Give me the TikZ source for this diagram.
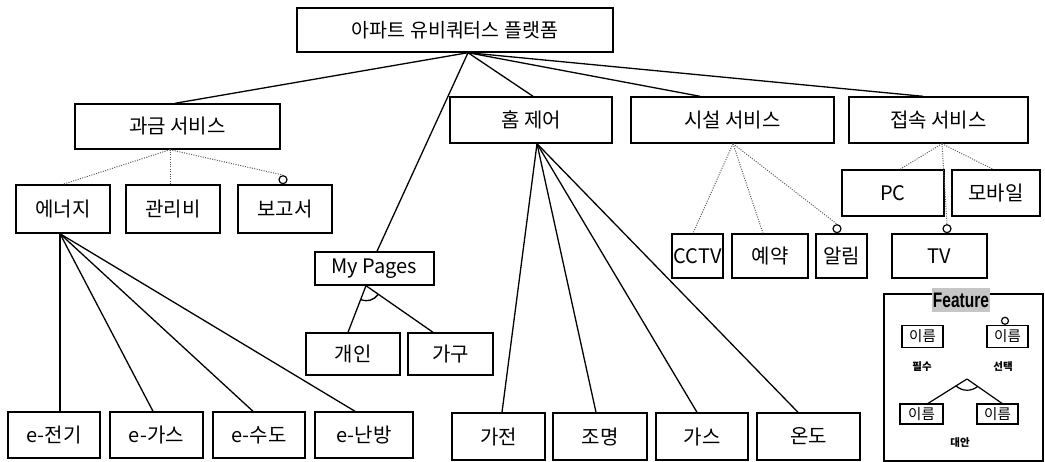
\documentclass[tikz,border=0pt]{standalone}
\usepackage{graphicx}
\usepackage{fontspec}
\setmainfont{Noto Sans CJK KR}
\newfontfamily\latfont{Liberation Sans}
\usetikzlibrary{calc}
\tikzset{
  box/.style={draw, line width=1.4pt, inner sep=0pt, font=\fontsize{20}{23}\selectfont},
  sol/.style={line width=1.3pt},
  dot/.style={line width=1pt, gray!70!black, dash pattern=on 1pt off 1.4pt},
  optc/.style={circle, draw, line width=1.2pt, minimum size=8pt, inner sep=0pt, anchor=south},
  lbox/.style={draw, line width=1.2pt, inner sep=0pt, minimum width=41pt, minimum height=22pt, font=\fontsize{14.5}{16}\selectfont},
  ltext/.style={inner sep=0pt, font=\bfseries\fontsize{10.5}{12}\selectfont}
}
\begin{document}
\begin{tikzpicture}[x=1pt,y=-1pt]
\useasboundingbox (0,0) rectangle (1045,462);
\fill[white] (0,0) rectangle (1045,462);

% nodes
\node[box, minimum width=316pt, minimum height=44pt, font=\fontsize{19.5}{22}\selectfont] (root) at (455,30) {아파트 유비쿼터스 플랫폼};

\node[box, minimum width=205pt, minimum height=45pt] (kwa) at (177.5,126.5) {과금 서비스};
\node[box, minimum width=94pt, minimum height=48pt] (ener) at (63,209) {에너지};
\node[box, minimum width=94pt, minimum height=48pt] (mgmt) at (173,209) {관리비};
\node[box, minimum width=94pt, minimum height=48pt] (rep) at (285,209) {보고서};

\node[box, minimum width=92pt, minimum height=46pt] (ee) at (54,435) {e-전기};
\node[box, minimum width=93pt, minimum height=46pt] (eg) at (156.5,435) {e-가스};
\node[box, minimum width=92pt, minimum height=46pt] (ew) at (259,435) {e-수도};
\node[box, minimum width=98pt, minimum height=46pt] (eh) at (364,435) {e-난방};

\node[box, minimum width=119pt, minimum height=33pt] (myp) at (374.5,268.5) {My Pages};
\node[box, minimum width=94pt, minimum height=42pt] (gaein) at (353,354) {개인};
\node[box, minimum width=85pt, minimum height=42pt] (gagu) at (450.5,354) {가구};

\node[box, minimum width=162pt, minimum height=46pt] (home) at (531,120) {홈 제어};
\node[box, minimum width=93pt, minimum height=47pt] (appl) at (498.5,436.5) {가전};
\node[box, minimum width=94pt, minimum height=47pt] (light) at (600,436.5) {조명};
\node[box, minimum width=92pt, minimum height=47pt] (gas) at (702,436.5) {가스};
\node[box, minimum width=103pt, minimum height=47pt] (temp) at (808.5,436.5) {온도};

\node[box, minimum width=203pt, minimum height=46pt] (fac) at (732.5,120) {시설 서비스};
\node[box, minimum width=51pt, minimum height=44pt] (cctv) at (697.5,256) {CCTV};
\node[box, minimum width=76pt, minimum height=44pt] (resv) at (770,256) {예약};
\node[box, minimum width=51pt, minimum height=44pt] (noti) at (841.5,256) {알림};

\node[box, minimum width=179pt, minimum height=46pt] (acc) at (938.5,120) {접속 서비스};
\node[box, minimum width=102pt, minimum height=46pt] (pc) at (893,193) {PC};
\node[box, minimum width=88pt, minimum height=46pt] (mob) at (996,193) {모바일};
\node[box, minimum width=95pt, minimum height=44pt] (tv) at (939.5,256) {TV};

% optional circles
\node[optc] (repc) at ([xshift=-2pt]rep.north) {};
\node[optc] (notic) at ([xshift=-4.5pt]noti.north) {};
\node[optc] (tvc) at ([xshift=7.5pt]tv.north) {};

% root connectors
\coordinate (rp) at ([xshift=13pt]root.south);
\draw[sol] (rp) -- ([xshift=-2.5pt]kwa.north);
\draw[sol] (rp) -- ([xshift=2.5pt]myp.north);
\draw[sol] (rp) -- ([xshift=2pt]home.north);
\draw[sol] (rp) -- ([xshift=-32.5pt]fac.north);
\draw[sol] (rp) -- ([xshift=-15.5pt]acc.north);

% billing
\coordinate (kp) at ([xshift=-7.5pt]kwa.south);
\draw[dot] (kp) -- (ener.north);
\draw[dot] (kp) -- ([xshift=-3pt]mgmt.north);
\draw[dot] (kp) -- (repc.north);

\coordinate (ep) at ([xshift=-3pt]ener.south);
\draw[sol] (ep) -- ([xshift=6pt]ee.north);
\draw[sol] (ep) -- ([xshift=-3.5pt]eg.north);
\draw[sol] (ep) -- ([xshift=-6pt]ew.north);
\draw[sol] (ep) -- ([xshift=-9pt]eh.north);

% my pages (alternative)
\coordinate (mpa) at ([xshift=-8.5pt]myp.south);
\coordinate (mpl) at ([xshift=-5pt]gaein.north);
\coordinate (mpr) at ([xshift=-17.5pt]gagu.north);
\draw[sol] (mpa) -- (mpl);
\draw[sol] (mpa) -- (mpr);
\draw[sol] ($(mpa)!15pt!(mpl)$) to[bend right=37] ($(mpa)!15pt!(mpr)$);

% home control
\coordinate (hp) at ([xshift=6pt]home.south);
\draw[sol] (hp) -- ([xshift=3.5pt]appl.north);
\draw[sol] (hp) -- ([xshift=-4pt]light.north);
\draw[sol] (hp) -- ([xshift=-5pt]gas.north);
\draw[sol] (hp) -- ([xshift=-10.5pt]temp.north);

% facility
\coordinate (fp) at ([xshift=0.5pt]fac.south);
\draw[dot] (fp) -- ([xshift=-4.5pt]cctv.north);
\draw[dot] (fp) -- ([xshift=-7pt]resv.north);
\draw[dot] (fp) -- (notic.north);

% access
\coordinate (ap) at ([xshift=3.5pt]acc.south);
\draw[dot] (ap) -- ([xshift=7pt]pc.north);
\draw[dot] (ap) -- ([xshift=-3pt]mob.north);
\draw[dot] (ap) -- (tvc.north);

% legend
\draw[line width=1.4pt] (884,294) rectangle (1043,461);
\node[fill=gray!45, inner sep=0pt, minimum width=58pt, minimum height=24pt, font=\latfont\bfseries\fontsize{21}{23}\selectfont] (feat) at (961,300) {\scalebox{0.74}[1]{Feature}};
\node[lbox] (l1) at (922.5,336.5) {이름};
\node[lbox] (l2) at (1007.5,336.5) {이름};
\node[lbox, minimum width=43pt, minimum height=20pt] (l3) at (921.5,414) {이름};
\node[lbox, minimum height=20pt] (l4) at (997.5,414) {이름};
\node[optc, minimum size=7pt] (l2c) at ([xshift=-2.5pt]l2.north) {};
\node[ltext] (t1) at (922,367) {필수};
\node[ltext] (t2) at (1003,367) {선택};
\node[ltext] (t3) at (960,443) {대안};
\coordinate (la) at (967,379);
\coordinate (lal) at ([xshift=6.5pt]l3.north);
\coordinate (lar) at ([xshift=4.5pt]l4.north);
\draw[line width=1.2pt] (la) -- (lal);
\draw[line width=1.2pt] (la) -- (lar);
\draw[line width=1.2pt] ($(la)!13pt!(lal)$) to[bend right=40] ($(la)!13pt!(lar)$);
\end{tikzpicture}
\end{document}
